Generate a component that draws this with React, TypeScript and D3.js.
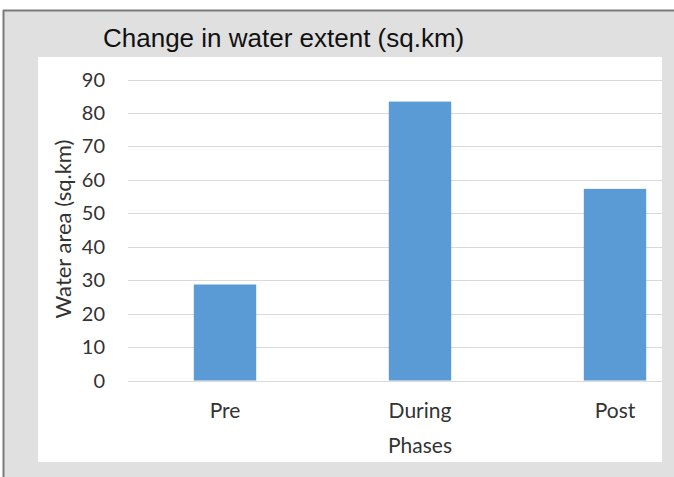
import React from "react";
import * as d3 from "d3";

const categories = ["Pre", "During", "Post"];
const values = [28.7, 83.4, 57.3];
const yTicks = [0, 10, 20, 30, 40, 50, 60, 70, 80, 90];
const chartTitle = "Change in water extent (sq.km)";
const yTitle = "Water area (sq.km)";
const xTitle = "Phases";

const W = 674;
const H = 477;

export default function App() {
  const x = d3.scaleBand<string>().domain(categories).range([127.5, 712.5]).paddingInner(0.68).paddingOuter(0.34);
  const y = d3.scaleLinear().domain([0, 90]).range([380.5, 79.5]);
  const gridX0 = 128;
  const gridX1 = 662;
  const labelFont = "Lato, 'Open Sans', sans-serif";
  return (
    <svg width={W} height={H} style={{ position: "absolute", left: 0, top: 0 }}>
      <rect x={0} y={0} width={W} height={H} fill="#ffffff" />
      <rect x={3} y={10} width={W} height={H} fill="#e0e0e0" />
      <line x1={3} x2={W} y1={10.5} y2={10.5} stroke="#7a7a7a" strokeWidth={2} />
      <line x1={3.5} x2={3.5} y1={10} y2={H} stroke="#7a7a7a" strokeWidth={2} />
      <text x={103} y={47} fontFamily="'Liberation Sans', Arial, sans-serif" fontSize={26} fill="#111">
        {chartTitle}
      </text>
      <rect x={38} y={57} width={624} height={405} fill="#ffffff" />
      {yTicks.map((t) => (
        <g key={t}>
          <line x1={gridX0} x2={gridX1} y1={Math.round(y(t)) + 0.5} y2={Math.round(y(t)) + 0.5} stroke="#d9d9d9" strokeWidth={1} />
          <text x={105} y={y(t)} dy="0.35em" textAnchor="end" fontFamily={labelFont} fontSize={20} fill="#333">
            {t}
          </text>
        </g>
      ))}
      {categories.map((c, i) => (
        <rect key={c} x={x(c)!} y={y(values[i])} width={x.bandwidth()} height={y(0) - y(values[i])} fill="#5b9bd5" />
      ))}
      {categories.map((c) => (
        <text key={c} x={x(c)! + x.bandwidth() / 2} y={418} textAnchor="middle" fontFamily={labelFont} fontSize={21} fill="#333">
          {c}
        </text>
      ))}
      <text x={420} y={453} textAnchor="middle" fontFamily={labelFont} fontSize={21} fill="#333">
        {xTitle}
      </text>
      <text transform="translate(71,229) rotate(-90)" textAnchor="middle" fontFamily={labelFont} fontSize={22} fill="#333">
        {yTitle}
      </text>
    </svg>
  );
}
